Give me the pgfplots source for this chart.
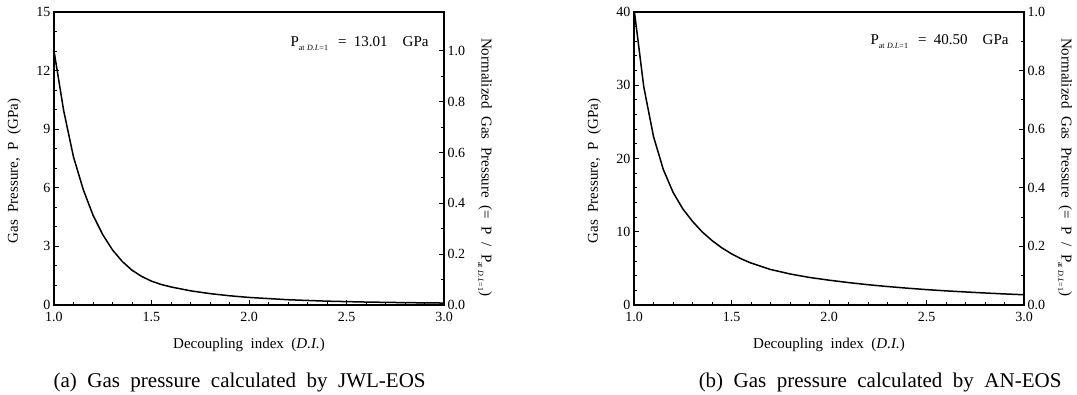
\documentclass[border=0pt]{standalone}
\usepackage{fontspec}
\setmainfont{Liberation Serif}
\usepackage{pgfplots}
\usepackage{pgfplotstable}
\pgfplotsset{compat=1.18}

\pgfplotstableread{
x y
1.00 13.01
1.05 9.93
1.10 7.58
1.15 5.91
1.20 4.60
1.25 3.60
1.30 2.82
1.35 2.23
1.40 1.78
1.45 1.46
1.50 1.22
1.55 1.05
1.60 0.924
1.70 0.727
1.80 0.583
1.90 0.473
2.00 0.387
2.20 0.270
2.40 0.196
2.60 0.151
2.80 0.121
3.00 0.100
}\jwl

\pgfplotstableread{
x y
1.00 40.5
1.05 29.8
1.10 23.0
1.15 18.52
1.20 15.4
1.25 13.13
1.30 11.42
1.35 9.97
1.40 8.80
1.45 7.81
1.50 6.99
1.55 6.30
1.60 5.73
1.70 4.85
1.80 4.24
1.90 3.76
2.00 3.39
2.10 3.06
2.20 2.77
2.30 2.52
2.40 2.30
2.50 2.10
2.60 1.93
2.70 1.78
2.80 1.64
2.90 1.51
3.00 1.40
}\aneos

\newcommand{\wsp}{\spaceskip=0.5em plus 0.1em\relax}
\newcommand{\subDI}{\raisebox{-3.5pt}{\fontsize{8}{8}\selectfont\spaceskip=0.3em\relax at \textit{D.I.}=1}}

\pgfplotsset{
  base/.style={
    scale only axis, width=390pt, height=293pt,
    xmin=1, xmax=3, xtick={1,1.5,2,2.5,3}, minor x tick num=4,
    tick align=inside, major tick length=5pt, minor tick length=3pt,
    axis line style={line width=1.3pt},
    every tick/.style={line width=0.9pt, black},
    tick label style={font=\fontsize{14}{14}\selectfont},
    /pgf/number format/assume math mode=true,
    x tick label style={yshift=-4pt, /pgf/number format/.cd, fixed, fixed zerofill, precision=1, /tikz/.cd},
  },
  mainax/.style={base, xtick pos=bottom, ytick pos=left, ymin=0,
    xlabel={\wsp Decoupling index (\textit{D.I.})},
    every axis x label/.style={at={(axis description cs:0.5,-0.135)}, anchor=center, font=\fontsize{15}{15}\selectfont},
    every axis y label/.style={at={(axis description cs:-0.102,0.457)}, rotate=90, anchor=center, font=\fontsize{15}{15}\selectfont},
  },
  twinax/.style={base, axis x line=none, axis y line*=right, ymin=0,
    ytick={0,0.2,0.4,0.6,0.8,1.0}, minor y tick num=1,
    y tick label style={/pgf/number format/.cd, fixed, fixed zerofill, precision=1, /tikz/.cd},
    ylabel={\wsp Normalized Gas Pressure (= P / P\subDI)},
    every axis y label/.style={at={(axis description cs:1.105,0.47)}, rotate=-90, anchor=center, font=\fontsize{15}{15}\selectfont},
  },
}

\begin{document}
\begin{tikzpicture}[x=1pt,y=1pt]
\path[use as bounding box] (0,0) rectangle (1077,-395);

% ---------- (a) JWL-EOS ----------
\begin{axis}[mainax, at={(54pt,-305pt)}, anchor=south west,
  ymax=15, ytick={0,3,6,9,12,15}, minor y tick num=2,
  ylabel={\wsp Gas Pressure, P (GPa)}]
  \addplot[black, line width=1.5pt, no marks, line join=round] table[x=x,y=y] {\jwl};
\end{axis}
\begin{axis}[twinax, at={(54pt,-305pt)}, anchor=south west, ymax=1.15296]
\end{axis}

% ---------- (b) AN-EOS ----------
\begin{axis}[mainax, at={(634pt,-305pt)}, anchor=south west,
  ymax=40, ytick={0,10,20,30,40}, minor y tick num=4,
  ylabel={\wsp Gas Pressure, P (GPa)}]
  \addplot[black, line width=1.5pt, no marks, line join=round] table[x=x,y=y] {\aneos};
\end{axis}
\begin{axis}[twinax, at={(634pt,-305pt)}, anchor=south west, ymax=1.0]
\end{axis}

% annotations
\node[anchor=base west, font=\fontsize{15}{15}\selectfont] at (287,-47) {\wsp P\subDI\ \,=\ 13.01\ \ GPa};
\node[anchor=base west, font=\fontsize{15}{15}\selectfont] at (867,-45) {\wsp P\subDI\ \,=\ 40.50\ \ GPa};

% captions
\node[anchor=base west, font=\fontsize{21}{21}\selectfont] at (50,-388) {\wsp (a) Gas pressure calculated by JWL-EOS};
\node[anchor=base east, font=\fontsize{21}{21}\selectfont] at (1065,-388) {\wsp (b) Gas pressure calculated by AN-EOS};
\end{tikzpicture}
\end{document}
